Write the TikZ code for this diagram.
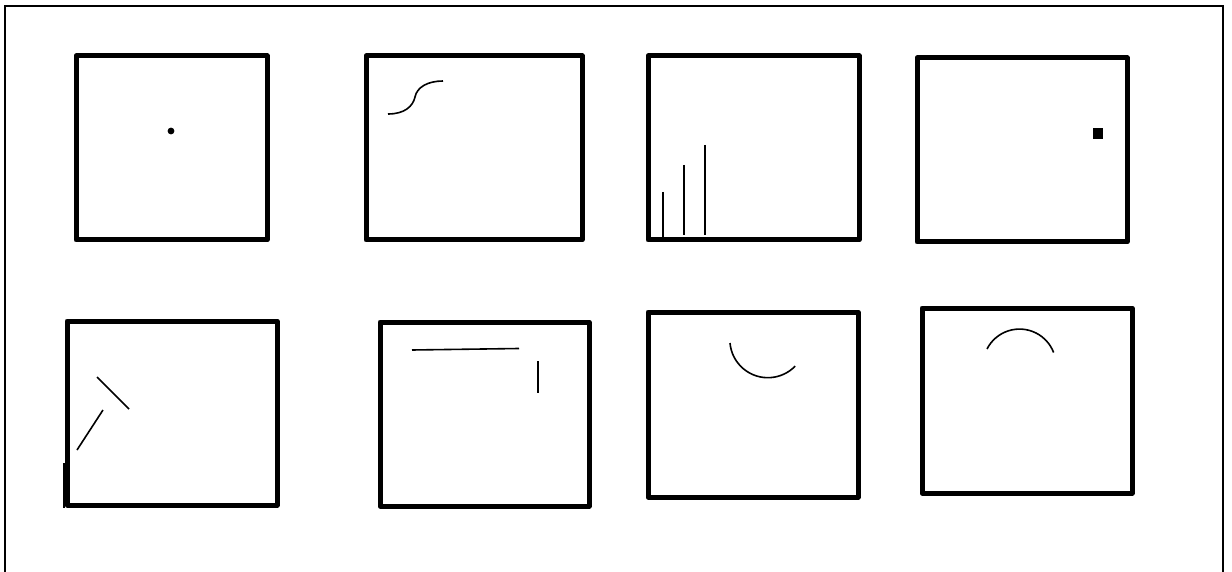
\documentclass[tikz,border=0pt]{standalone}
\begin{document}
\begin{tikzpicture}[x=1pt,y=-1pt,
  panel/.style={line width=5pt,line join=round},
  thin/.style={line width=1.6pt},
  frame/.style={line width=1.4pt}]
\useasboundingbox (0,0) rectangle (1232,572);
% outer frame (bottom lies below the picture)
\draw[frame] (5,590) -- (5,6) -- (1223,6) -- (1223,590);
% top row
\draw[panel] (76,56) rectangle (267,240);
\fill (171,131) circle[radius=3.4];
\draw[panel] (366,56) rectangle (582,240);
\draw[thin] (388,114) .. controls (405,114) and (413,106) .. (415,97)
  .. controls (417,87) and (428,81) .. (443,81);
\draw[panel] (648,56) rectangle (859,240);
\draw[thin] (663,192) -- (663,239);
\draw[thin] (684,165) -- (684,235);
\draw[thin] (705,145) -- (705,235);
\draw[panel] (917,58) rectangle (1127,242);
\fill (1093,128) rectangle (1103,139);
% bottom row
\draw[panel] (67,321) rectangle (277,505);
\draw[line width=1.8pt] (64,463) -- (64,508);
\draw[thin] (97,377) -- (129,409);
\draw[thin] (103,410) -- (77,450);
\draw[panel] (380,322) rectangle (589,506);
\draw[thin] (412,350) -- (519,348.5);
\draw[thin] (538,361) -- (538,393);
\draw[panel] (648,312) rectangle (858,497);
\draw[thin] (730,343) arc[start angle=175,end angle=44,radius=38];
\draw[panel] (922,308) rectangle (1132,493);
\draw[thin] (987,349) arc[start angle=207,end angle=339,radius=36.5];
\end{tikzpicture}
\end{document}
